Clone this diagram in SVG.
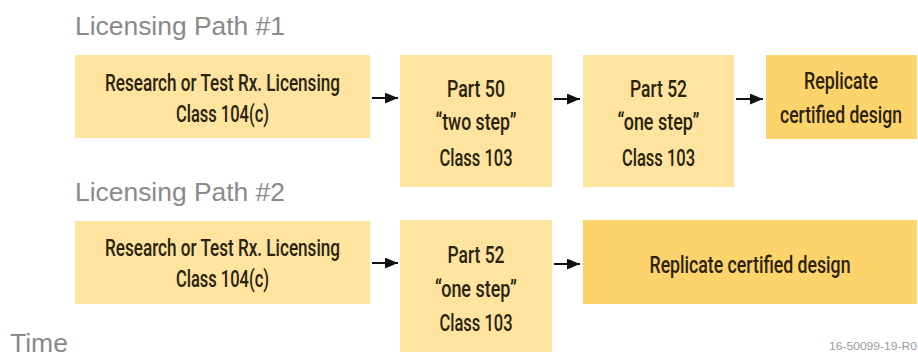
<svg xmlns="http://www.w3.org/2000/svg" width="918" height="356" viewBox="0 0 918 356">
  <style>
    .title { font-family: "Liberation Sans", Arial, sans-serif; font-size: 25px; fill: #8a8a8a; }
    .lbl { font-family: Roboto, "Liberation Sans", Arial, sans-serif; font-weight: 500; font-size: 23px; fill: #2b2210; text-anchor: middle; }
    .light { fill: #fee49f; }
    .dark { fill: #fcd46b; }
    .conn { stroke: #111; stroke-width: 2; fill: none; marker-end: url(#arrow); }
    .note { font-family: "Liberation Sans", Arial, sans-serif; font-size: 11px; fill: #9a9a9a; }
  </style>
  <defs>
    <marker id="arrow" viewBox="0 0 12 10" refX="12" refY="5" markerWidth="13" markerHeight="11" markerUnits="userSpaceOnUse" orient="auto">
      <path d="M0,0 L12,5 L0,10 Z" fill="#111"/>
    </marker>
  </defs>
  <rect width="918" height="356" fill="#ffffff"/>

  <text class="title" x="75" y="35" textLength="210" lengthAdjust="spacingAndGlyphs">Licensing Path #1</text>
  <text class="title" x="75" y="201" textLength="210" lengthAdjust="spacingAndGlyphs">Licensing Path #2</text>
  <text class="title" x="10" y="352" textLength="58" lengthAdjust="spacingAndGlyphs">Time</text>
  <text class="note" x="829" y="350" textLength="88" lengthAdjust="spacingAndGlyphs">16-50099-19-R0</text>

  <!-- Path 1 -->
  <g id="p1-research">
    <rect class="light" x="75" y="55" width="295" height="83"/>
    <text class="lbl" x="222.5" y="91" textLength="235" lengthAdjust="spacingAndGlyphs">Research or Test Rx. Licensing</text>
    <text class="lbl" x="222.5" y="122" textLength="93" lengthAdjust="spacingAndGlyphs">Class 104(c)</text>
  </g>
  <g id="p1-part50">
    <rect class="light" x="400" y="55" width="152" height="132"/>
    <text class="lbl" x="476" y="97" textLength="58" lengthAdjust="spacingAndGlyphs">Part 50</text>
    <text class="lbl" x="476" y="130" textLength="81" lengthAdjust="spacingAndGlyphs">“two step”</text>
    <text class="lbl" x="476" y="166" textLength="73" lengthAdjust="spacingAndGlyphs">Class 103</text>
  </g>
  <g id="p1-part52">
    <rect class="light" x="583" y="55" width="151" height="132"/>
    <text class="lbl" x="658.5" y="97" textLength="57" lengthAdjust="spacingAndGlyphs">Part 52</text>
    <text class="lbl" x="658.5" y="130" textLength="82" lengthAdjust="spacingAndGlyphs">“one step”</text>
    <text class="lbl" x="658.5" y="166" textLength="73" lengthAdjust="spacingAndGlyphs">Class 103</text>
  </g>
  <g id="p1-replicate">
    <rect class="dark" x="766" y="55" width="151" height="84"/>
    <text class="lbl" x="841" y="89" textLength="74" lengthAdjust="spacingAndGlyphs">Replicate</text>
    <text class="lbl" x="841" y="123" textLength="122" lengthAdjust="spacingAndGlyphs">certified design</text>
  </g>

  <!-- Path 2 -->
  <g id="p2-research">
    <rect class="light" x="75" y="221" width="295" height="83"/>
    <text class="lbl" x="222.5" y="256" textLength="235" lengthAdjust="spacingAndGlyphs">Research or Test Rx. Licensing</text>
    <text class="lbl" x="222.5" y="287" textLength="93" lengthAdjust="spacingAndGlyphs">Class 104(c)</text>
  </g>
  <g id="p2-part52">
    <rect class="light" x="400" y="220" width="152" height="132"/>
    <text class="lbl" x="476" y="263" textLength="57" lengthAdjust="spacingAndGlyphs">Part 52</text>
    <text class="lbl" x="476" y="297" textLength="82" lengthAdjust="spacingAndGlyphs">“one step”</text>
    <text class="lbl" x="476" y="331" textLength="73" lengthAdjust="spacingAndGlyphs">Class 103</text>
  </g>
  <g id="p2-replicate">
    <rect class="dark" x="583" y="220" width="334" height="84"/>
    <text class="lbl" x="750" y="273" textLength="201" lengthAdjust="spacingAndGlyphs">Replicate certified design</text>
  </g>

  <g id="connectors">
    <line class="conn" x1="372" y1="98" x2="398" y2="98"/>
    <line class="conn" x1="554" y1="99" x2="580" y2="99"/>
    <line class="conn" x1="736" y1="99" x2="763" y2="99"/>
    <line class="conn" x1="372" y1="263" x2="398" y2="263"/>
    <line class="conn" x1="554" y1="264" x2="580" y2="264"/>
  </g>
</svg>
